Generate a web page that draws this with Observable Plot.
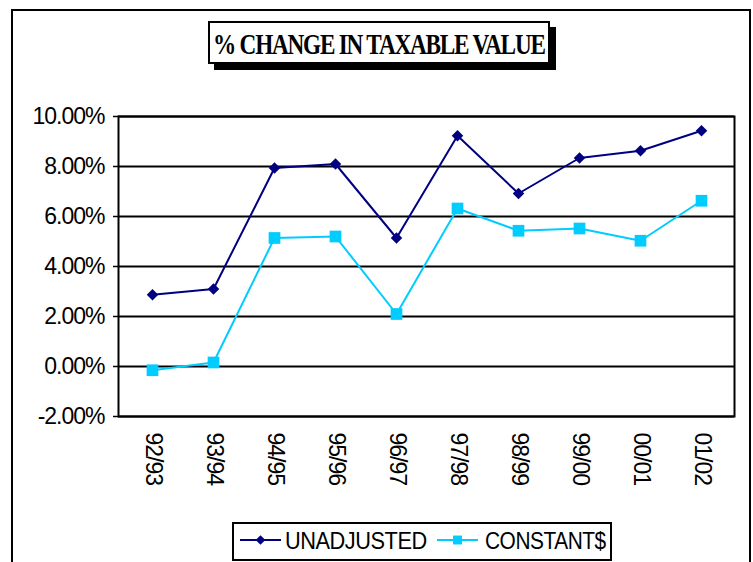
<!DOCTYPE html>
<html>
<head>
<meta charset="utf-8">
<script src="https://cdn.jsdelivr.net/npm/d3@7"></script>
<script src="https://cdn.jsdelivr.net/npm/@observablehq/plot@0.6"></script>
<style>
  html, body { margin: 0; padding: 0; background: #fff; }
  #wrap { position: relative; width: 753px; height: 562px; overflow: hidden; background: #fff; }
  #frame { position: absolute; left: 11px; top: 9px; width: 740px; height: 600px; border: 2px solid #000; box-sizing: border-box; }
  #chart { position: absolute; left: 0; top: 0; }
  #title { position: absolute; left: 208px; top: 21px; width: 342px; height: 43px; box-sizing: border-box; border: 2px solid #000; background: #fff; box-shadow: 6px 6px 0 #000; }
  #legend { position: absolute; left: 232px; top: 522px; width: 380px; height: 39px; box-sizing: border-box; border: 2px solid #000; background: #fff; }
  svg text { font-family: "Liberation Sans", Arial, sans-serif; }
</style>
</head>
<body>
<div id="wrap">
  <div id="frame"></div>
  <div id="chart"></div>
  <div id="title"></div>
  <div id="legend"></div>
</div>
<script>
const titleText = "% CHANGE IN TAXABLE VALUE";
const categories = ["92/93", "93/94", "94/95", "95/96", "96/97", "97/98", "98/99", "99/00", "00/01", "01/02"];
const unadjusted = [2.87, 3.10, 7.94, 8.10, 5.14, 9.23, 6.92, 8.34, 8.63, 9.43];
const constantDollars = [-0.15, 0.16, 5.14, 5.20, 2.10, 6.32, 5.43, 5.52, 5.03, 6.63];
const yTicks = [-2, 0, 2, 4, 6, 8, 10];
const seriesNames = ["UNADJUSTED", "CONSTANT$"];
const seriesColors = ["#000080", "#00CCFF"];
const seriesSymbols = ["diamond2", "square"];

const unadjData = categories.map((c, i) => ({cat: c, v: unadjusted[i]}));
const constData = categories.map((c, i) => ({cat: c, v: constantDollars[i]}));

const chart = Plot.plot({
  width: 753,
  height: 562,
  marginLeft: 118,
  marginRight: 19,
  marginTop: 116,
  marginBottom: 146,
  style: {fontFamily: "'Liberation Sans', Arial, sans-serif", fontSize: "23px", letterSpacing: "-1px", color: "#000", background: "transparent"},
  x: {type: "point", domain: categories, padding: 0.5, axis: null},
  y: {domain: [-2, 10]},
  marks: [
    Plot.ruleY(yTicks, {stroke: "#000", strokeWidth: 2}),
    Plot.frame({stroke: "#000", strokeWidth: 2}),
    Plot.axisY(yTicks, {label: null, tickSize: 5, tickPadding: 9, strokeWidth: 1.5, fontSize: 23, tickFormat: d => d.toFixed(2) + "%"}),
    Plot.text(categories, {x: d => d, frameAnchor: "bottom", rotate: 90, textAnchor: "start", dy: 16, dx: -7, fontSize: 23, fill: "#000"}),
    Plot.line(unadjData, {x: "cat", y: "v", stroke: seriesColors[0], strokeWidth: 2}),
    Plot.line(constData, {x: "cat", y: "v", stroke: seriesColors[1], strokeWidth: 2}),
    Plot.dot(unadjData, {x: "cat", y: "v", symbol: seriesSymbols[0], r: 5.2, fill: seriesColors[0], stroke: "none"}),
    Plot.dot(constData, {x: "cat", y: "v", symbol: seriesSymbols[1], r: 6.6, fill: seriesColors[1], stroke: "none"})
  ]
});
document.getElementById("chart").appendChild(chart);

// squeeze a text horizontally to a target width (anchored at its start)
function fitText(node, x, y, target) {
  const w = node.getBBox().width;
  const k = Math.min(1, target / w);
  node.setAttribute("x", 0);
  node.setAttribute("y", 0);
  node.setAttribute("transform", `translate(${x},${y}) scale(${k.toFixed(4)},1)`);
}

// Title
const tsvg = d3.select("#title").append("svg").attr("width", 338).attr("height", 39).style("display", "block");
const tnode = tsvg.append("text")
  .attr("x", 0).attr("y", 0)
  .style("font-family", "'Liberation Serif', 'Times New Roman', serif")
  .style("font-weight", "bold").style("font-size", "29px").style("letter-spacing", "-1.5px")
  .text(titleText).node();
fitText(tnode, 3, 31, 332);

// Legend
const lsvg = d3.select("#legend").append("svg").attr("width", 376).attr("height", 35).style("display", "block");
const legendItems = [
  {name: seriesNames[0], color: seriesColors[0], sym: d3.symbolDiamond2, size: 60, x0: 6, tx: 51, tl: 142},
  {name: seriesNames[1], color: seriesColors[1], sym: d3.symbolSquare, size: 80, x0: 203, tx: 251, tl: 121}
];
legendItems.forEach(it => {
  lsvg.append("line").attr("x1", it.x0).attr("x2", it.x0 + 41).attr("y1", 16).attr("y2", 16)
    .attr("stroke", it.color).attr("stroke-width", 2);
  lsvg.append("path").attr("d", d3.symbol(it.sym, it.size)()).attr("transform", `translate(${it.x0 + 20.5},16)`)
    .attr("fill", it.color);
  const t = lsvg.append("text").style("font-size", "24px").style("letter-spacing", "-0.5px").text(it.name).node();
  fitText(t, it.tx, 25, it.tl);
});
</script>
</body>
</html>
